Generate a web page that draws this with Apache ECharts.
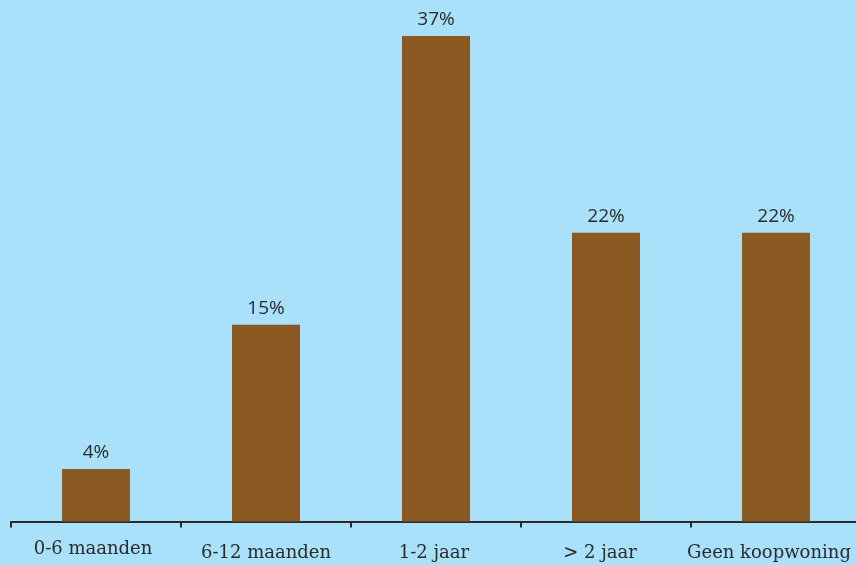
<!DOCTYPE html>
<html>
<head>
<meta charset="utf-8">
<script src="https://cdn.jsdelivr.net/npm/echarts@6/dist/echarts.min.js"></script>
<style>
html,body{margin:0;padding:0;background:#a9e0fa;}
#c{width:856px;height:565px;}
</style>
</head>
<body>
<div id="c"></div>
<script>
const categories = ['0-6 maanden', '6-12 maanden', '1-2 jaar', '> 2 jaar', 'Geen koopwoning'];
const values = [4, 15, 37, 22, 22];
// small per-label nudges seen in the reference: [top padding, right padding]
const labelPads = [[0, 6], [4, 0], [4, 4], [4, 12], [4, 14]];

const chart = echarts.init(document.getElementById('c'));
chart.setOption({
  backgroundColor: '#a9e0fa',
  animation: false,
  grid: { left: 11, width: 850, top: 0, bottom: 43.5, outerBoundsMode: 'none', containLabel: false },
  xAxis: {
    type: 'category',
    data: categories.map((c, i) => ({ value: c, textStyle: { padding: [labelPads[i][0], labelPads[i][1], 0, 0] } })),
    axisLine: { lineStyle: { color: '#2a2a2a', width: 2 } },
    axisTick: { show: true, length: 6, lineStyle: { color: '#2a2a2a', width: 2 } },
    axisLabel: {
      color: '#2b2b2b',
      fontFamily: 'DejaVu Serif',
      fontSize: 18,
      margin: 19,
      interval: 0,
      hideOverlap: false
    }
  },
  yAxis: {
    type: 'value',
    min: 0,
    max: 39.75,
    show: false,
    splitLine: { show: false }
  },
  series: [{
    type: 'bar',
    data: values,
    barWidth: '40%',
    itemStyle: { color: '#8b5a23' },
    label: {
      show: true,
      position: 'top',
      distance: 7,
      formatter: '{c}%',
      color: '#2b2b2b',
      fontFamily: 'Open Sans',
      fontSize: 19
    }
  }]
});
</script>
</body>
</html>
